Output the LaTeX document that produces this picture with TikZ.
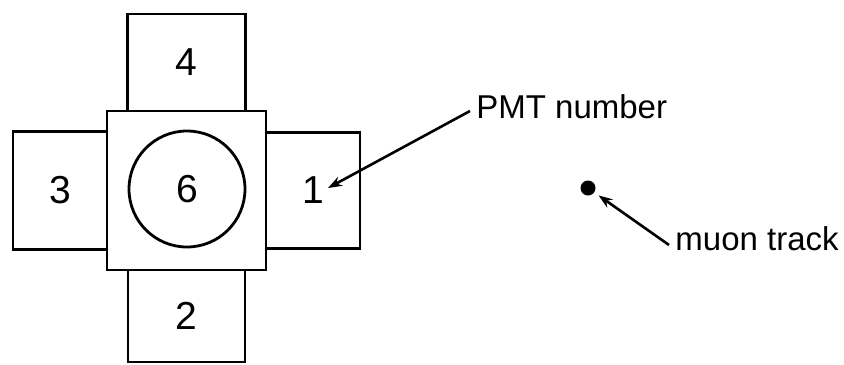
\documentclass[tikz,border=0pt]{standalone}
\usepackage{fontspec}
\setmainfont{Liberation Sans}
\usetikzlibrary{positioning,arrows.meta}

\begin{document}
\begin{tikzpicture}[x=0.5pt, y=-0.5pt,
  pmt/.style={draw, line width=1.4pt, outer sep=0pt, inner sep=0pt,
    font=\fontsize{19.5}{19.5}\selectfont},
  lbl/.style={inner xsep=3pt, inner ysep=0pt, anchor=base west,
    font=\fontsize{16.5}{16.5}\selectfont},
  arr/.style={line width=1.3pt, -{Stealth[length=7pt, width=5pt]}}]
\useasboundingbox (0,0) rectangle (844,364);
% central pmt, seen from above
\node[pmt, minimum width=79.5pt, minimum height=79.5pt] (pmtsix) at (186.5,190.5) {};
\node[pmt, circle, minimum size=58pt] (window) at (187,189) {6};
% the four side pmts
\node[pmt, minimum width=59pt, minimum height=48.5pt, above=0pt of pmtsix] (pmtfour) {4};
\node[pmt, minimum width=58.5pt, minimum height=46pt, below=0pt of pmtsix] (pmttwo) {2};
\node[pmt, minimum width=47pt, minimum height=59pt, left=0pt of pmtsix] (pmtthree) {3};
\node[pmt, minimum width=47pt, minimum height=58pt, right=0pt of pmtsix] (pmtone) {1};
% labels
\node[lbl] (pmtlabel) at (470,118) {PMT number};
\coordinate (pmttip) at (328,188);
\draw[arr] ([yshift=3.5pt]pmtlabel.base west) -- (pmttip);
\node[circle, fill, minimum size=7.5pt, inner sep=0pt] (track) at (588,188) {};
\node[lbl] (muonlabel) at (669,250) {muon track};
\draw[arr, shorten >=2.5pt] ([yshift=2.5pt]muonlabel.base west) -- (track);
\end{tikzpicture}
\end{document}
